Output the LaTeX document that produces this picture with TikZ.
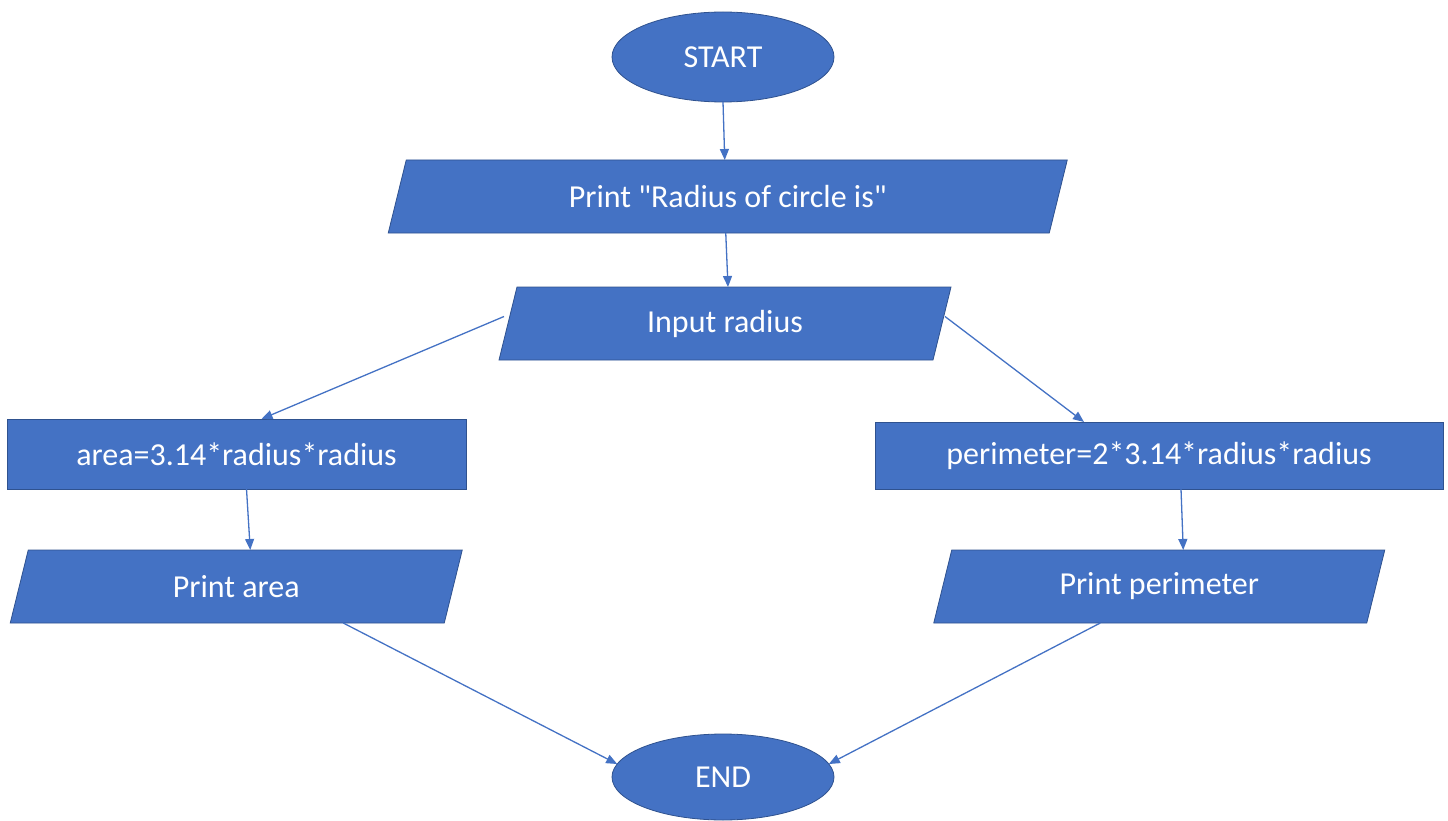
\documentclass[tikz,border=0pt]{standalone}
\usepackage{fontspec}
\setmainfont{Carlito}
\usetikzlibrary{shapes.geometric,arrows.meta,calc,backgrounds}
\definecolor{boxfill}{HTML}{4472C4}
\definecolor{boxedge}{HTML}{2F528F}
\newcommand\straightdq{\XeTeXglyph\numexpr\XeTeXcharglyph"22\relax}
\newcommand\parashape[1]{\path[para] ($(#1.north west)+(9,0)$) -- ($(#1.north east)+(9,0)$) -- ($(#1.south east)+(-9,0)$) -- ($(#1.south west)+(-9,0)$) -- cycle;}
\begin{document}
\begin{tikzpicture}[x=1pt,y=-1pt,
  txt/.style={text=white,font=\fontsize{32}{38}\selectfont},
  oval/.style={ellipse,fill=boxfill,draw=boxedge,line width=0.8pt,inner sep=0pt,outer sep=0pt,txt},
  rectbox/.style={rectangle,fill=boxfill,draw=boxedge,line width=0.8pt,inner sep=0pt,outer sep=0pt,txt},
  parabox/.style={rectangle,inner sep=0pt,outer sep=0pt,txt},
  para/.style={fill=boxfill,draw=boxedge,line width=0.8pt},
  flow/.style={draw=boxfill,line width=1.3pt,-{Triangle[length=11pt,width=9pt]}}]
\useasboundingbox (0,0) rectangle (1448,821);
\node[oval,minimum width=222pt,minimum height=90pt] (start) at (723,57) {START};
\node[parabox,minimum width=661pt,minimum height=73pt] (pr) at (727.75,196.5) {Print \straightdq Radius of circle is\straightdq};
\node[parabox,minimum width=434pt,minimum height=73pt] (inp) at (725,323.5) {Input radius};
\node[rectbox,minimum width=459pt,minimum height=70pt] (area) at (236.5,454) {area=3.14*radius*radius};
\node[rectbox,minimum width=568pt,minimum height=67pt] (perim) at (1159,455.5) {perimeter=2*3.14*radius*radius};
\node[parabox,minimum width=434pt,minimum height=73pt] (parea) at (236.25,586.5) {Print area};
\node[parabox,minimum width=433pt,minimum height=73pt] (pperim) at (1159.25,586.5) {Print perimeter};
\node[oval,minimum width=222pt,minimum height=86pt] (stop) at (723,777) {END};
\begin{pgfonlayer}{background}
\parashape{pr}
\parashape{inp}
\parashape{parea}
\parashape{pperim}
\end{pgfonlayer}
\draw[flow] (start.south) -- ($(pr.north)+(-3,0)$);
\draw[flow] ($(pr.south)+(-2,0)$) -- ($(inp.north)+(3,0)$);
\draw[flow] ($(inp.west)+(-4,-7)$) -- ($(area.north)+(25,0)$);
\draw[flow] ($(inp.east)+(3,-7)$) -- ($(perim.north)+(-75,0)$);
\draw[flow] ($(area.south)+(10,0)$) -- ($(parea.north)+(14,0)$);
\draw[flow] ($(perim.south)+(22,0)$) -- ($(pperim.north)+(24,0)$);
\draw[flow] ($(parea.south)+(107,0)$) -- (stop.173);
\draw[flow] ($(pperim.south)+(-59,0)$) -- (stop.7);
\end{tikzpicture}
\end{document}
